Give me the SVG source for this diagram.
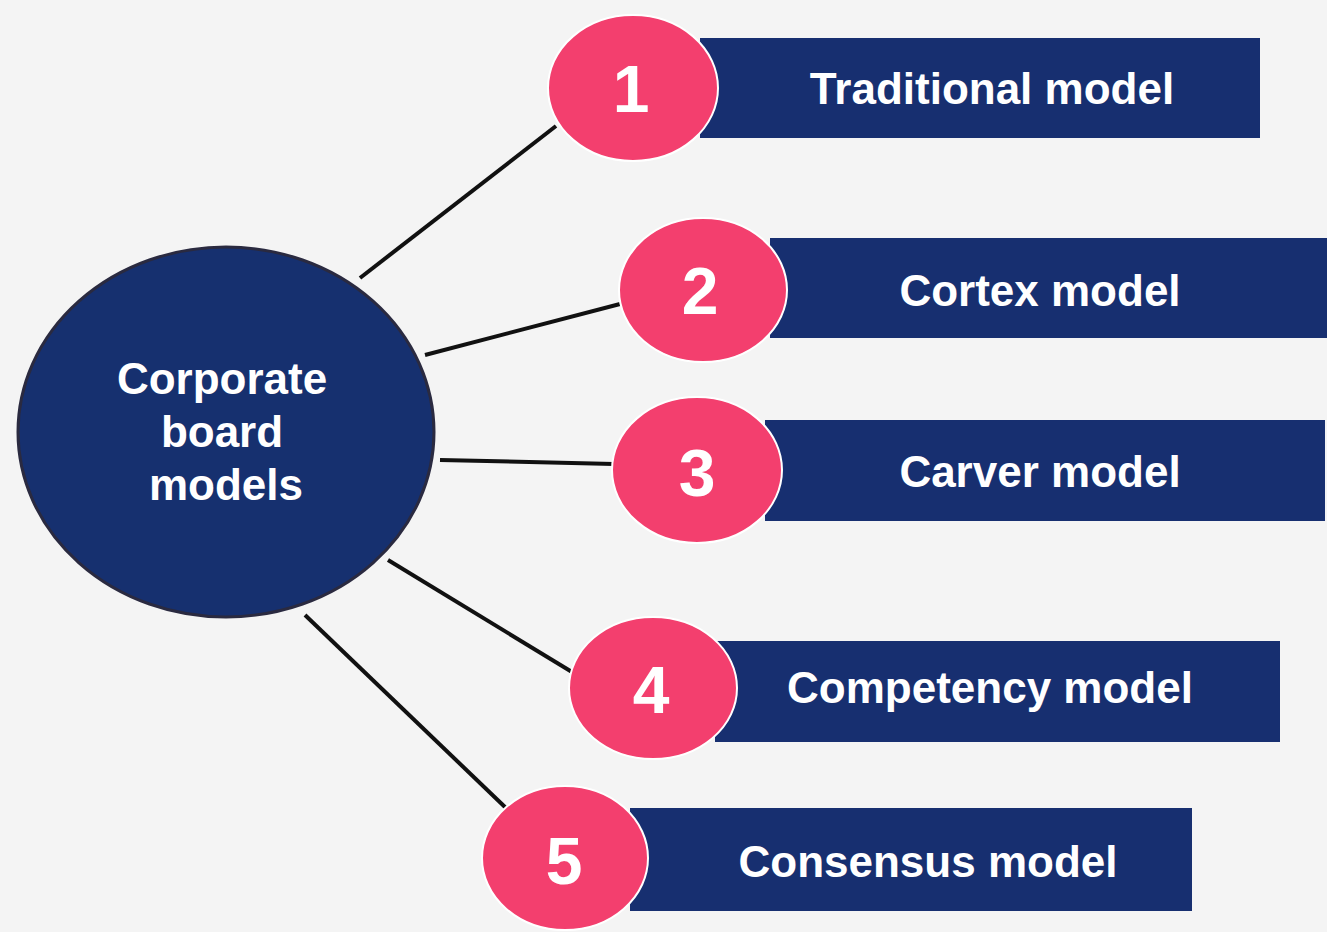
<svg xmlns="http://www.w3.org/2000/svg" width="1327" height="932" viewBox="0 0 1327 932">
<style>
.bg{fill:#f4f4f4}
.hub{fill:#16306f;stroke:#2a2a40;stroke-width:3}
.box{fill:#172f70}
.num{fill:#f33f6e;stroke:#ffffff;stroke-width:2}
.lbl{font-family:"Liberation Sans",Arial,sans-serif;font-weight:bold;font-size:44px;fill:#ffffff;text-anchor:middle}
.n{font-family:"Liberation Sans",Arial,sans-serif;font-weight:bold;font-size:66px;fill:#ffffff;text-anchor:middle}
.hubt{font-family:"Liberation Sans",Arial,sans-serif;font-weight:bold;font-size:44px;fill:#ffffff;text-anchor:middle}
.con{stroke:#111111;stroke-width:4;fill:none}
</style>
<rect class="bg" x="0" y="0" width="1327" height="932"/>
<g id="connectors">
<line class="con" x1="360" y1="278" x2="556" y2="126"/>
<line class="con" x1="425" y1="355" x2="620" y2="304"/>
<line class="con" x1="440" y1="460" x2="614" y2="464"/>
<line class="con" x1="388" y1="560" x2="572" y2="672"/>
<line class="con" x1="305" y1="615" x2="506" y2="808"/>
</g>
<g id="hub">
<ellipse class="hub" cx="226" cy="432" rx="208" ry="185"/>
<text class="hubt" x="222" y="394">Corporate</text>
<text class="hubt" x="222" y="447">board</text>
<text class="hubt" x="226" y="500">models</text>
</g>
<g id="node1">
<rect class="box" x="700" y="38" width="560" height="100"/>
<ellipse class="num" cx="633" cy="88" rx="85" ry="73"/>
<text class="n" x="631" y="112">1</text>
<text class="lbl" x="992" y="104">Traditional model</text>
</g>
<g id="node2">
<rect class="box" x="770" y="238" width="557" height="100"/>
<ellipse class="num" cx="703" cy="290" rx="84" ry="72"/>
<text class="n" x="700" y="314">2</text>
<text class="lbl" x="1040" y="306">Cortex model</text>
</g>
<g id="node3">
<rect class="box" x="765" y="420" width="560" height="101"/>
<ellipse class="num" cx="697" cy="470" rx="85" ry="73"/>
<text class="n" x="697" y="496">3</text>
<text class="lbl" x="1040" y="487">Carver model</text>
</g>
<g id="node4">
<rect class="box" x="715" y="641" width="565" height="101"/>
<ellipse class="num" cx="653" cy="688" rx="84" ry="71"/>
<text class="n" x="651" y="713">4</text>
<text class="lbl" x="990" y="703">Competency model</text>
</g>
<g id="node5">
<rect class="box" x="630" y="808" width="562" height="103"/>
<ellipse class="num" cx="565" cy="858" rx="83" ry="72"/>
<text class="n" x="564" y="884">5</text>
<text class="lbl" x="928" y="877">Consensus model</text>
</g>
</svg>
